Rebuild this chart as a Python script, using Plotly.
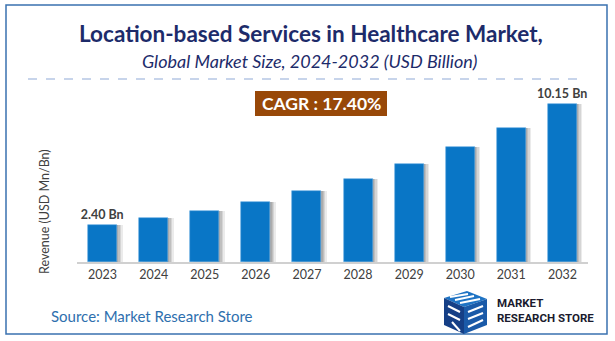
import plotly.graph_objects as go

years = ["2023", "2024", "2025", "2026", "2027", "2028", "2029", "2030", "2031", "2032"]
revenue = [2.40, 2.82, 3.25, 3.82, 4.53, 5.30, 6.26, 7.35, 8.63, 10.15]
bar_labels = ["2.40 Bn", "", "", "", "", "", "", "", "", "10.15 Bn"]

title_text = "Location-based Services in Healthcare Market,"
subtitle_text = "Global Market Size, 2024-2032 (USD Billion)"
cagr_text = "CAGR : 17.40%"
yaxis_title = "Revenue (USD Mn/Bn)"
source_text = "Source: Market Research Store"

W, H = 615, 341
L, R, T, B = 77, 27, 75, 79
PW, PH = W - L - R, H - T - B
FONT = "Lato"


def px(x):
    return (x - L) / PW


def py(y):
    return (H - B - y) / PH


def path(pts):
    return "M " + " L ".join(f"{px(a):.5f},{py(b):.5f}" for a, b in pts) + " Z"


BW = 0.567  # bar width in category units
unit_px = PW / len(years)

fig = go.Figure()

# soft shadow on the right of each bar
for dx, a in [(5.5, 0.10), (4, 0.12), (2.5, 0.14), (1.2, 0.14)]:
    fig.add_trace(go.Bar(
        x=years, y=revenue, width=BW, offset=-BW / 2 + dx / unit_px,
        marker=dict(color=f"rgba(60,60,60,{a})", line=dict(width=0)),
        hoverinfo="skip", showlegend=False,
    ))

fig.add_trace(go.Bar(
    x=years, y=revenue, width=BW, offset=-BW / 2,
    marker=dict(color="#0976c6", line=dict(color="#5aa6e0", width=0.6)),
    text=bar_labels, textposition="outside", cliponaxis=False, constraintext="none",
    textfont=dict(family=FONT, size=12.5, color="#404040", weight="bold"),
    showlegend=False,
))

shapes = [
    # outer border
    dict(type="rect", xref="paper", yref="paper", x0=px(6), x1=px(607), y0=py(5), y1=py(334),
         line=dict(color="#3a72b0", width=1.5), fillcolor="rgba(0,0,0,0)", layer="below"),
    # dashed separator
    dict(type="line", xref="paper", yref="paper", x0=px(28), x1=px(586), y0=py(79), y1=py(79),
         line=dict(color="#8fa9d6", width=1, dash="dash")),
    # CAGR box
    dict(type="rect", xref="paper", yref="paper", x0=px(255), x1=px(387), y0=py(91), y1=py(116),
         line=dict(width=0), fillcolor="#984808"),
    # logo cube
    dict(type="path", xref="paper", yref="paper", path=path([(444, 298), (467, 291), (487, 299), (464, 307)]),
         fillcolor="#1e73c4", line=dict(width=0)),
    dict(type="path", xref="paper", yref="paper", path=path([(444, 298), (464, 307), (464, 334), (444, 325)]),
         fillcolor="#153f86", line=dict(width=0)),
    dict(type="path", xref="paper", yref="paper", path=path([(464, 307), (487, 299), (487, 325), (464, 334)]),
         fillcolor="#1a5aa8", line=dict(width=0)),
]
# white stripes on logo
stripes = [
    [(450, 297), (468, 294)], [(455, 300), (474, 296)], [(460, 303), (480, 299)],
    [(448, 306), (460, 312)], [(448, 314), (460, 320)], [(452, 322), (460, 331)],
    [(468, 312), (483, 306)], [(468, 319), (483, 313)], [(468, 327), (483, 320)],
]
for (x0, y0), (x1, y1) in stripes:
    shapes.append(dict(type="line", xref="paper", yref="paper", x0=px(x0), y0=py(y0), x1=px(x1), y1=py(y1),
                       line=dict(color="white", width=2)))

annotations = [
    dict(text=title_text, x=px(311), y=py(33), xref="paper", yref="paper", showarrow=False,
         xanchor="center", yanchor="middle",
         font=dict(family=FONT, size=22.5, color="#1d2b6a", weight="bold")),
    dict(text=f"<i>{subtitle_text}</i>", x=px(309), y=py(61), xref="paper", yref="paper", showarrow=False,
         xanchor="center", yanchor="middle",
         font=dict(family=FONT, size=18, color="#1d2b6a")),
    dict(text=cagr_text, x=px(321), y=py(103.5), xref="paper", yref="paper", showarrow=False,
         xanchor="center", yanchor="middle",
         font=dict(family=FONT, size=17.5, color="white", weight="bold")),
    dict(text=yaxis_title, x=px(44), y=py(212), xref="paper", yref="paper", showarrow=False,
         xanchor="center", yanchor="middle", textangle=-90,
         font=dict(family=FONT, size=12.5, color="#404040")),
    dict(text=source_text, x=px(49), y=py(316), xref="paper", yref="paper", showarrow=False,
         xanchor="left", yanchor="middle",
         font=dict(family=FONT, size=15, color="#2e6fae")),
    dict(text="MARKET<br>RESEARCH STORE", x=px(495), y=py(310.5), xref="paper", yref="paper", showarrow=False,
         xanchor="left", yanchor="middle", align="left",
         font=dict(family="Roboto", size=11.5, color="#1a1a2e", weight="bold")),
]

fig.update_layout(
    width=W, height=H,
    margin=dict(l=L, r=R, t=T, b=B),
    paper_bgcolor="white", plot_bgcolor="white",
    barmode="overlay", bargap=0,
    showlegend=False,
    shapes=shapes, annotations=annotations,
    xaxis=dict(type="category", showline=True, linecolor="#d0d0d0", linewidth=1.5,
               ticks="", showgrid=False, zeroline=False,
               tickfont=dict(family=FONT, size=12.5, color="#404040"),
               range=[-0.5, 9.5]),
    yaxis=dict(range=[0, 12], showticklabels=False, showgrid=False, zeroline=False,
               showline=False, ticks=""),
)

fig.write_html("out.html")
